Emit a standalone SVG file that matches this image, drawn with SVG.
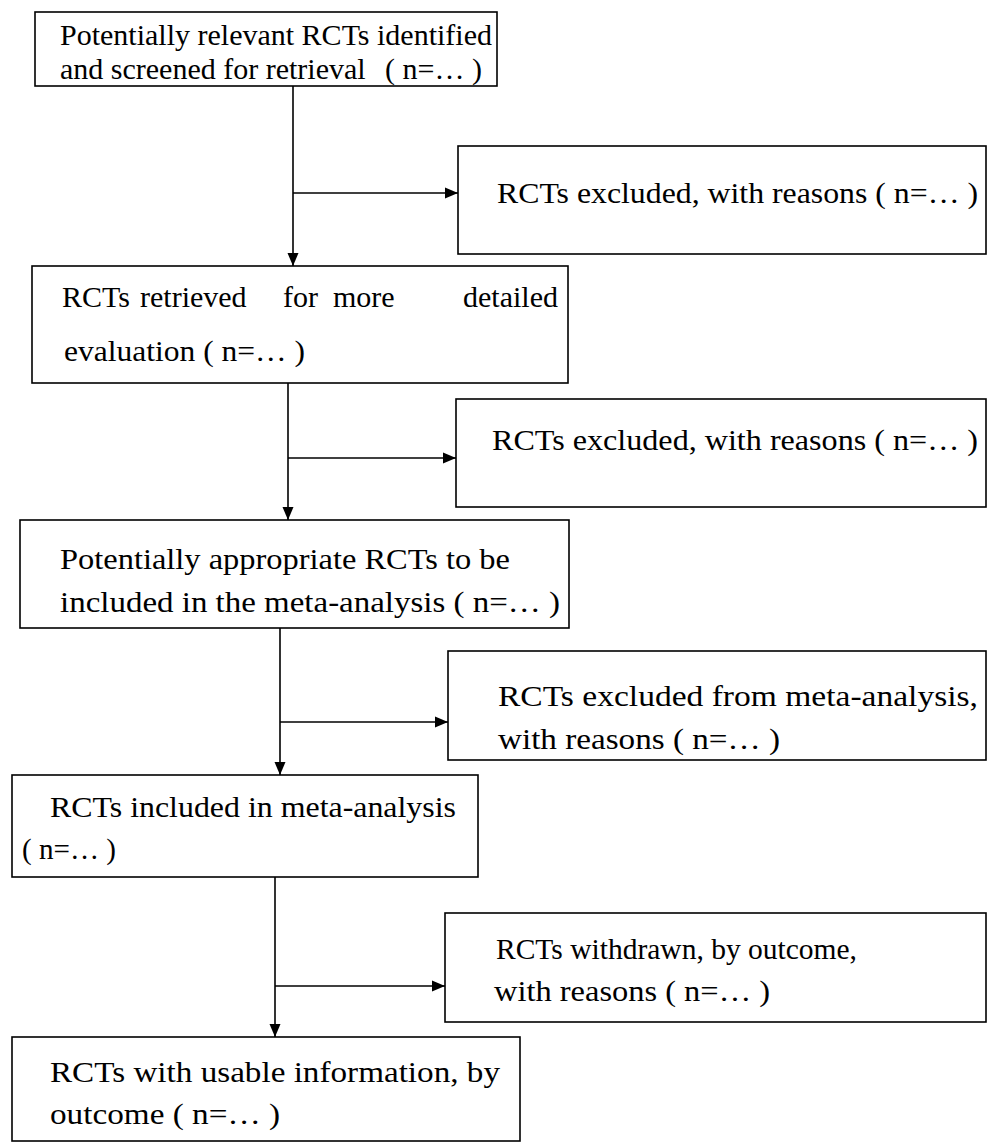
<svg xmlns="http://www.w3.org/2000/svg" width="989" height="1143" viewBox="0 0 989 1143">
<defs>
<style>
.box{fill:#fff;stroke:#000;stroke-width:1.6}
text{font-family:'Liberation Serif','Times New Roman',Times,serif;font-size:30px;fill:#000}
.c{stroke:#000;stroke-width:1.6;fill:none}
</style>
<marker id="ah" markerUnits="userSpaceOnUse" markerWidth="14" markerHeight="12" refX="13" refY="6" orient="auto">
<path d="M0,0.5 L13,6 L0,11.5 Z" fill="#000"/>
</marker>
</defs>
<rect width="989" height="1143" fill="#fff"/>
<g id="n1">
<rect class="box" x="35" y="12" width="462" height="74"/>
<text x="60" y="45" textLength="432" lengthAdjust="spacingAndGlyphs">Potentially relevant RCTs identified</text>
<text y="79"><tspan x="60">and screened for retrieval</tspan><tspan x="385">( n=… )</tspan></text>
</g>
<g id="x1">
<rect class="box" x="458" y="146" width="528" height="108"/>
<text x="497" y="203" textLength="481" lengthAdjust="spacingAndGlyphs">RCTs excluded, with reasons ( n=… )</text>
</g>
<g id="n2">
<rect class="box" x="32" y="266" width="536" height="117"/>
<text y="307"><tspan x="62">RCTs</tspan><tspan x="140">retrieved</tspan><tspan x="283">for</tspan><tspan x="333">more</tspan><tspan x="463">detailed</tspan></text>
<text x="64" y="361" textLength="241" lengthAdjust="spacingAndGlyphs">evaluation ( n=… )</text>
</g>
<g id="x2">
<rect class="box" x="456" y="399" width="530" height="108"/>
<text x="492" y="450" textLength="486" lengthAdjust="spacingAndGlyphs">RCTs excluded, with reasons ( n=… )</text>
</g>
<g id="n3">
<rect class="box" x="20" y="520" width="549" height="108"/>
<text x="60" y="569" textLength="450" lengthAdjust="spacingAndGlyphs">Potentially appropriate RCTs to be</text>
<text x="60" y="612" textLength="500" lengthAdjust="spacingAndGlyphs">included in the meta-analysis  ( n=… )</text>
</g>
<g id="x3">
<rect class="box" x="448" y="651" width="538" height="109"/>
<text x="498" y="706" textLength="480" lengthAdjust="spacingAndGlyphs">RCTs excluded from meta-analysis,</text>
<text x="498" y="749" textLength="282" lengthAdjust="spacingAndGlyphs">with reasons ( n=… )</text>
</g>
<g id="n4">
<rect class="box" x="12" y="775" width="466" height="102"/>
<text x="50" y="817" textLength="406" lengthAdjust="spacingAndGlyphs">RCTs included in meta-analysis</text>
<text x="22" y="859" textLength="94" lengthAdjust="spacingAndGlyphs">( n=… )</text>
</g>
<g id="x4">
<rect class="box" x="445" y="913" width="541" height="109"/>
<text x="496" y="959" textLength="361" lengthAdjust="spacingAndGlyphs">RCTs withdrawn, by outcome,</text>
<text x="494" y="1001" textLength="276" lengthAdjust="spacingAndGlyphs">with reasons ( n=… )</text>
</g>
<g id="n5">
<rect class="box" x="12" y="1037" width="508" height="104"/>
<text x="50" y="1082" textLength="450" lengthAdjust="spacingAndGlyphs">RCTs with usable information, by</text>
<text x="50" y="1124" textLength="230" lengthAdjust="spacingAndGlyphs">outcome ( n=… )</text>
</g>
<g id="connectors">
<line class="c" x1="293" y1="86" x2="293" y2="266" marker-end="url(#ah)"/>
<line class="c" x1="293" y1="193" x2="458" y2="193" marker-end="url(#ah)"/>
<line class="c" x1="288" y1="383" x2="288" y2="520" marker-end="url(#ah)"/>
<line class="c" x1="288" y1="458" x2="456" y2="458" marker-end="url(#ah)"/>
<line class="c" x1="280" y1="628" x2="280" y2="775" marker-end="url(#ah)"/>
<line class="c" x1="280" y1="722" x2="448" y2="722" marker-end="url(#ah)"/>
<line class="c" x1="275" y1="877" x2="275" y2="1037" marker-end="url(#ah)"/>
<line class="c" x1="275" y1="986" x2="445" y2="986" marker-end="url(#ah)"/>
</g>
</svg>
